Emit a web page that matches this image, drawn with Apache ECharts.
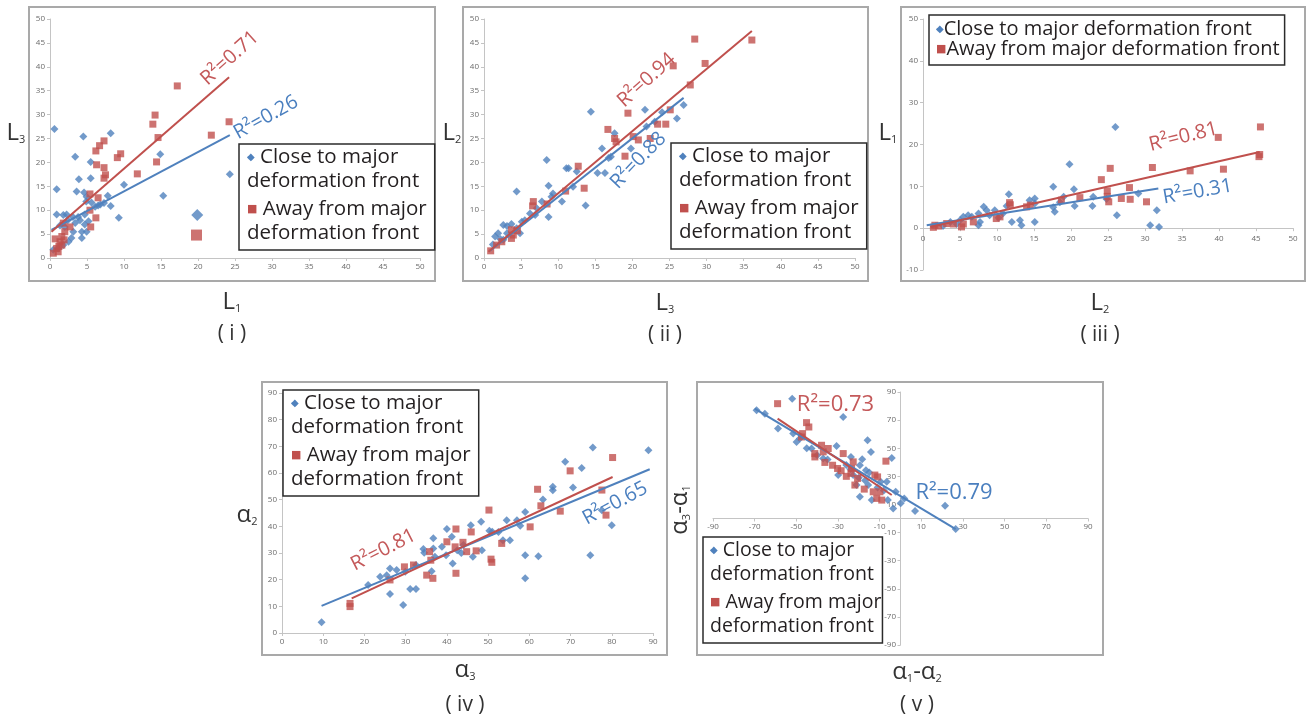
<!DOCTYPE html>
<html>
<head>
<meta charset="utf-8">
<script src="https://cdn.jsdelivr.net/npm/echarts@6/dist/echarts.min.js"></script>
<style>
  html, body { margin: 0; padding: 0; background: #fff; }
  #main { width: 1307px; height: 718px; }
</style>
</head>
<body>
<div id="main"></div>
<script>
var nameClose = 'Close to major deformation front';
var nameAway = 'Away from major deformation front';

// (i) L1 vs L3
var closeI = [[0.6,27],[4.5,25.4],[8.2,26.1],[3.4,21.2],[5.5,20.1],[14.9,21.7],[24.3,17.5],[3.9,16.5],[5.5,16.7],[0.9,14.4],[3.6,13.9],[4.6,13.7],[10,15.3],[15.3,13],[7.8,13],[4.95,12.8],[4.9,11.8],[8.2,10.9],[6.1,10.7],[5.6,11.6],[6.5,11],[9.3,8.4],[0.9,9.1],[1.8,9],[2.25,9.1],[3.1,8.6],[3.8,8.6],[4.7,9.1],[2.4,7.9],[3.4,7.3],[4.05,7.9],[1.35,6.8],[2.0,6.5],[4.7,7.0],[4.3,5.5],[4.95,5.5],[2.9,4.2],[1.8,2.7],[2.5,3.4],[1.1,2.0],[0.45,1.7],[3.15,5.5],[5.2,7.7],[4.3,4.2],[6.8,11.2],[7.3,11.5]];
var closeIBig = [[19.9,9]];
var awayI = [[17.2,36],[14.2,29.9],[13.9,28],[24.2,28.5],[14.6,25.2],[21.8,25.7],[7.3,24.5],[6.7,23.5],[6.2,22.4],[9.55,21.8],[9.1,21],[6.3,19.5],[7.3,18.9],[7.5,17.4],[7.3,16.7],[11.8,17.6],[14.4,20.1],[6.5,12.6],[5.4,13.4],[5.4,10],[6.2,8.4],[5.5,6.5],[2.7,6.5],[1.8,7.3],[0.7,4.0],[1.35,3.4],[1.6,2.7],[0.9,2.0],[1.1,1.3],[0.45,1.0],[1.6,4.5],[2.0,5.5],[1.9,3.8],[1.2,2.4]];
var awayIBig = [[19.8,4.8]];
var trendCloseI = [[0.2,5.9],[24.3,25.7]];
var trendAwayI = [[0.2,5.5],[24.2,37.8]];

// (ii) L3 vs L2
var closeII = [[14.4,30.6],[21.7,31],[26.9,32],[26,29.2],[17.6,26.1],[21.9,27.5],[19.8,22.9],[15.9,22.9],[17.1,21.2],[16.8,20.9],[11.4,18.8],[8.45,20.5],[16.3,17.8],[15.3,17.8],[12.5,18.1],[12,14.9],[8.7,15.1],[10.5,11.8],[13.7,11],[8.7,8.6],[4.4,13.9],[9.1,12.8],[9.3,13.5],[7.8,11.8],[7.1,10.4],[6.2,9.3],[5.5,7.9],[5.1,7.6],[6.9,9],[2.6,6.9],[3.1,6.7],[3.7,7.1],[4.4,6.2],[1.9,5.2],[1.5,4.5],[3.1,5.2],[2.6,3.8],[4.85,5.2],[11.1,18.8],[24,30.5],[23,28.5],[1.2,2.8],[2.2,4.0]];
var awayII = [[28.4,45.8],[36.1,45.6],[29.8,40.7],[25.5,40.2],[27.8,36.2],[19.4,30.3],[25.1,31],[23.4,28],[24.5,28],[22.4,25],[20.8,24.7],[20.1,25.4],[16.7,26.9],[17.6,25],[17.8,24.3],[19,21.3],[12.7,19.2],[13.5,14.6],[11,14],[8.5,11.3],[6.65,11.8],[6.55,10.9],[3.7,5.9],[3.95,4.8],[3.7,4.1],[2.4,3.4],[1.7,2.7],[0.9,1.5],[4.5,5.7]];
var trendCloseII = [[0.8,1.5],[26.9,33.5]];
var trendAwayII = [[0.6,1.3],[36.1,47.5]];

// (iii) L2 vs L1
var closeIII = [[26,24.2],[19.8,15.3],[17.6,9.9],[20.4,9.3],[11.6,8.1],[15.1,7.1],[19,7.5],[23,7.5],[22.9,5.3],[20.5,5.3],[17.8,3.9],[17.6,5],[31.6,4.3],[30.7,0.7],[31.9,0.3],[26.2,3.1],[29.1,8.3],[15.1,5.9],[13.1,1.9],[13.3,0.7],[12,1.5],[15.1,1.5],[8.6,4.3],[8.2,5.1],[9.7,4.3],[11.3,5.3],[6.1,3.1],[5.45,2.7],[6.6,2.7],[7.5,3.5],[9,3.1],[5,1.9],[7.5,0.7],[7.7,1.5],[10.8,3.5],[4.55,1],[2.7,0.5],[3.7,1.5],[24.8,7.0],[10.2,2.5],[14.4,6.7],[18.5,6.2]];
var awayIII = [[45.6,24.2],[39.9,21.7],[45.4,17.1],[45.5,17.6],[40.6,14.1],[36.1,13.7],[31,14.5],[25.3,14.3],[24.1,11.6],[24.9,8.9],[25.1,6.3],[26.8,7.1],[27.9,9.7],[28,6.9],[30.2,6.3],[21.2,7.3],[18.7,6.7],[14.5,5.5],[11.7,6.1],[11.8,5.6],[10.4,2.7],[9.9,2.3],[6.8,1.5],[5.45,1],[5.2,0.3],[4.1,1],[3.2,1.1],[2.1,0.5],[1.6,0.7],[1.4,0.2],[14,5.1],[24.9,7.6]];
var trendCloseIII = [[0.5,0.7],[31.8,9.5]];
var trendAwayIII = [[1,0.3],[45.5,18.2]];

// (iv) alpha3 vs alpha2
var closeIV = [[88.9,68.5],[75.4,69.6],[68.7,64.2],[72.7,61.9],[70.6,54.6],[65.7,54.8],[65.7,53.5],[63.3,50.1],[46.6,55.4],[77.6,46],[80,40.4],[74.8,29.2],[59,45.4],[57,42.3],[54.5,42.3],[52.5,37.9],[55.3,34.8],[53.6,34.8],[57.8,40.2],[59,29.2],[62.2,28.8],[59,20.5],[50.3,38.3],[48.3,41.7],[45.8,40.4],[40,39],[41.2,36.1],[36.7,35.5],[38.8,32.3],[39.8,29.2],[46.3,28.6],[36.7,31.7],[34.3,31.5],[34.5,30.1],[37.1,28.6],[36.3,23.2],[41.4,26.1],[32.5,25.5],[29.9,23],[27.8,23.6],[26.2,24.2],[25.4,21.7],[23.8,21.1],[20.9,18],[26.2,14.6],[29.4,10.5],[31.1,16.5],[32.5,16.5],[9.6,4],[42.5,31],[44,33],[48.5,31],[43.5,30],[51,38]];
var awayIV = [[80.2,65.8],[69.9,60.8],[62,53.9],[77.6,53.6],[67.5,45.7],[78.6,44.2],[62.8,47.7],[50.2,46.1],[60.2,39.8],[42.2,39],[45.9,37.9],[43.9,34],[40,34.2],[42,32.3],[44.8,30.5],[47.1,30.8],[53.3,33.6],[50.7,27.7],[42.2,22.4],[35.8,30.5],[36.1,27.3],[36.6,20.5],[35.1,21.7],[29.7,24.8],[31.9,25.5],[26.2,19.9],[16.5,11.1],[16.5,9.9],[50.9,26.5]];
var trendCloseIV = [[9.6,10.2],[89.2,61.4]];
var trendAwayIV = [[16.9,13],[80.2,58.5]];

// (v) alpha1-alpha2 vs alpha3-alpha1
var closeV = [[-52,85.2],[-69.1,77],[-65.1,74.6],[-58.8,64],[-27.5,72.2],[-49.9,54.5],[-48.3,57],[-42.7,49.8],[-30.7,51.6],[-15.8,55.7],[-14.2,47.4],[-18.4,42.2],[-23.8,43.8],[-19.5,37.9],[-16.6,34.4],[-15,32.7],[-4.2,43.1],[-6.6,26.1],[-9.5,26.1],[-2.3,19],[-19.5,15.5],[-13.8,13.1],[-6.1,13.1],[-3.5,7.2],[0.1,10.8],[1.8,14.3],[7,5.3],[21.4,9.1],[-15.5,23.8],[-29.9,30.9],[-37.1,42.7],[-51.5,60.4],[-22.7,30.9],[-21.1,23.8],[26.5,-7.5],[-45,50],[-40,45],[-35,42],[-26,38],[-24,35],[-20,29],[-17,27],[-11,22],[-8,20]];
var awayV = [[-59,81.7],[-45.1,68.2],[-44,65.1],[-47,60.4],[-47.5,58],[-37.9,52.1],[-34.7,49.8],[-41.1,46.2],[-41.1,43.8],[-27.5,46.2],[-36.3,39.9],[-32.6,37.9],[-30.2,35.6],[-23.5,35.6],[-23.8,32.1],[-20.6,28.5],[-21.9,23.8],[-17.4,20.9],[-12.3,30.9],[-11,29.6],[-7,40.8],[-13.1,19],[-9.9,19],[-11.4,14.3],[-9,13.1],[-22.7,40.3],[-37.1,47.4],[-28.5,34],[-26,30]];
var trendCloseV = [[-70,78.2],[26.5,-7.5]];
var trendAwayV = [[-59,71],[-4.2,16.7]];

// R squared of the trend lines, per panel
var r2Close = ['0.26', '0.88', '0.31', '0.65', '0.79'];
var r2Away = ['0.71', '0.94', '0.81', '0.81', '0.73'];

var BLUE = '#4f81bd', RED = '#c0504d';
var FONT = 'Open Sans';

// xm / ym: label margins, negative where the axis crosses the plot at zero
var panels = [
  { grid: {left: 50, top: 19, width: 370, height: 239}, x: [0, 50, 5], y: [0, 50, 5], xm: 5, ym: 5,
    close: closeI, away: awayI, tClose: trendCloseI, tAway: trendAwayI,
    lblClose: {at: [29.2, 29.4], rot: 29, size: 20}, lblAway: {at: [24.3, 41.8], rot: 42, size: 20},
    legend: {left: 239, top: 144, oneLine: false, size: 20.5, pad: [1, 8, 5, 3]} },
  { grid: {left: 484, top: 19, width: 371, height: 239}, x: [0, 50, 5], y: [0, 50, 5], xm: 5, ym: 5,
    close: closeII, away: awayII, tClose: trendCloseII, tAway: trendAwayII,
    lblClose: {at: [20.8, 20.4], rot: 46, size: 20}, lblAway: {at: [21.9, 37.2], rot: 42, size: 20},
    legend: {left: 671, top: 143, oneLine: false, size: 20.5, pad: [1, 8, 5, 3]} },
  { grid: {left: 923, top: 19, width: 370, height: 251}, x: [0, 50, 5], y: [-10, 50, 10], xm: -35, ym: 5,
    close: closeIII, away: awayIII, tClose: trendCloseIII, tAway: trendAwayIII,
    lblClose: {at: [37.1, 8.7], rot: 10, size: 20}, lblAway: {at: [35.2, 21.8], rot: 14, size: 20},
    legend: {left: 929, top: 15, oneLine: true, size: 20, pad: [4, 5, 6, 2]} },
  { grid: {left: 282, top: 393, width: 371, height: 240}, x: [0, 90, 10], y: [0, 90, 10], xm: 5, ym: 5,
    close: closeIV, away: awayIV, tClose: trendCloseIV, tAway: trendAwayIV,
    lblClose: {at: [80.8, 48.6], rot: 28, size: 20}, lblAway: {at: [24.6, 31.1], rot: 27, size: 20},
    legend: {left: 283, top: 390, oneLine: false, size: 20.5, pad: [1, 8, 5, 3]} },
  { grid: {left: 713, top: 392, width: 375, height: 253}, x: [-90, 90, 20], y: [-90, 90, 20], xm: -122, ym: -183,
    close: closeV, away: awayV, tClose: trendCloseV, tAway: trendAwayV,
    lblClose: {at: [25.7, 18.6], rot: 0, size: 22}, lblAway: {at: [-31.2, 81], rot: 0, size: 22},
    legend: {left: 703, top: 537, oneLine: false, size: 19.5, pad: [1, 1, 5, 2]} }
];

function axis(k, r, margin) {
  return {
    gridIndex: k, type: 'value', min: r[0], max: r[1], interval: r[2],
    axisLine: {onZero: true, lineStyle: {color: '#c4c4c4', width: 1}},
    axisTick: {show: true, length: 3, lineStyle: {color: '#c4c4c4'}},
    axisLabel: {fontSize: 8, color: '#6b6b6b', margin: margin, fontFamily: FONT,
                formatter: function (v) { return String(v); }},
    splitLine: {show: false}
  };
}

function r2Mark(lbl, text, color) {
  return {
    silent: true, symbol: 'circle', symbolSize: 1,
    itemStyle: {color: 'rgba(0,0,0,0)'},
    label: {show: true, position: 'inside', rotate: lbl.rot, formatter: 'R²=' + text,
            color: color, fontSize: lbl.size, fontFamily: FONT},
    data: [{coord: lbl.at}]
  };
}

function legendFor(L) {
  return {
    left: L.left, top: L.top, orient: 'vertical', icon: 'none',
    itemWidth: 0, itemHeight: 20, itemGap: L.oneLine ? 0 : 4,
    padding: L.pad,
    borderColor: '#2b2b2b', borderWidth: 1.5, backgroundColor: '#fff',
    selectedMode: false, data: [nameClose, nameAway],
    formatter: function (n) {
      var mark = n === nameClose ? '{d|◆}' : '{s|■}';
      if (L.oneLine) return mark + n;
      return mark + ' ' + (n === nameClose ? 'Close to major' : 'Away from major') + '\ndeformation front';
    },
    textStyle: {
      fontFamily: FONT, fontSize: L.size, color: '#231f20', lineHeight: L.oneLine ? 20 : 24,
      rich: {
        d: {color: BLUE, fontSize: 10, fontFamily: 'DejaVu Sans'},
        s: {color: RED, fontSize: 11, fontFamily: 'DejaVu Sans'}
      }
    }
  };
}

var series = [];
panels.forEach(function (p, k) {
  series.push({name: nameClose, type: 'scatter', xAxisIndex: k, yAxisIndex: k, symbol: 'diamond',
               symbolSize: 8, itemStyle: {color: BLUE}, data: p.close});
  series.push({name: nameAway, type: 'scatter', xAxisIndex: k, yAxisIndex: k, symbol: 'rect',
               symbolSize: 7, itemStyle: {color: RED}, data: p.away});
});
series.push({name: nameClose, type: 'scatter', xAxisIndex: 0, yAxisIndex: 0, symbol: 'diamond',
             symbolSize: 12, itemStyle: {color: BLUE}, data: closeIBig});
series.push({name: nameAway, type: 'scatter', xAxisIndex: 0, yAxisIndex: 0, symbol: 'rect',
             symbolSize: 11, itemStyle: {color: RED}, data: awayIBig});
panels.forEach(function (p, k) {
  series.push({name: 'trend close', type: 'line', xAxisIndex: k, yAxisIndex: k, showSymbol: false,
               lineStyle: {color: BLUE, width: 2}, data: p.tClose, z: 3,
               markPoint: r2Mark(p.lblClose, r2Close[k], '#4a7fbf')});
  series.push({name: 'trend away', type: 'line', xAxisIndex: k, yAxisIndex: k, showSymbol: false,
               lineStyle: {color: RED, width: 2}, data: p.tAway, z: 3,
               markPoint: r2Mark(p.lblAway, r2Away[k], '#c4595a')});
});

// frames and captions
function frame(x, y, w, h) {
  return {type: 'rect', silent: true, z: -10, shape: {x: x, y: y, width: w, height: h},
          style: {fill: 'none', stroke: '#a9a9a9', lineWidth: 2}};
}
function subText(x, y, main, sub, rot) {
  var parts = '';
  for (var i = 0; i < main.length; i++) parts += '{m|' + main[i] + '}{s|' + sub[i] + '}';
  return {type: 'text', silent: true, x: x, y: y, rotation: rot || 0,
          style: {text: parts, align: 'center', verticalAlign: 'middle',
                  rich: {m: {fontSize: 24, fontFamily: FONT, fill: '#333'},
                         s: {fontSize: 11, fontFamily: FONT, fill: '#333', verticalAlign: 'bottom'}}}};
}
function caption(x, y, t) {
  return {type: 'text', silent: true, x: x, y: y,
          style: {text: t, align: 'center', verticalAlign: 'middle', fontSize: 21, fontFamily: FONT, fill: '#333'}};
}

var graphics = [
  frame(29, 7, 406, 274), frame(463, 7, 405, 274), frame(901, 7, 404, 274),
  frame(262, 382, 405, 273), frame(697, 382, 406, 273),
  subText(232, 302, ['L'], ['1']), subText(16, 133, ['L'], ['3']), caption(232, 334, '( i )'),
  subText(665, 303, ['L'], ['3']), subText(452, 133, ['L'], ['2']), caption(665, 335, '( ii )'),
  subText(1100, 303, ['L'], ['2']), subText(888, 133, ['L'], ['1']), caption(1100, 335, '( iii )'),
  subText(465, 670, ['α'], ['3']), subText(247, 515, ['α'], ['2']), caption(465, 705, '( iv )'),
  subText(917, 672, ['α', '-α'], ['1', '2']), subText(680, 510, ['α', '-α'], ['3', '1'], Math.PI / 2),
  caption(917, 705, '( v )')
];

var chart = echarts.init(document.getElementById('main'));
chart.setOption({
  animation: false,
  backgroundColor: '#fff',
  grid: panels.map(function (p) { return p.grid; }),
  xAxis: panels.map(function (p, k) { return axis(k, p.x, p.xm); }),
  yAxis: panels.map(function (p, k) { return axis(k, p.y, p.ym); }),
  legend: panels.map(function (p) { return legendFor(p.legend); }),
  series: series,
  graphic: graphics
});
</script>
</body>
</html>
